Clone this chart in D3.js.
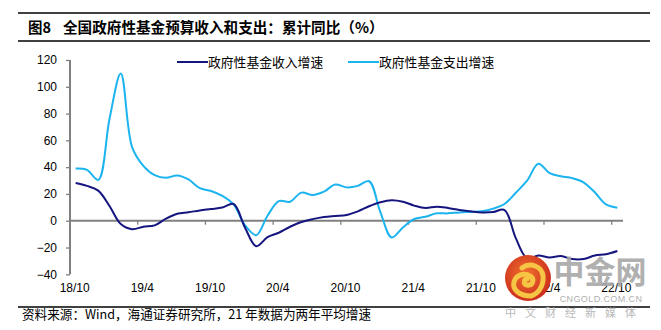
<!DOCTYPE html>
<html>
<head>
<meta charset="utf-8">
<script src="https://cdn.jsdelivr.net/npm/d3@7"></script>
<style>
  html, body { margin: 0; padding: 0; background: #ffffff; }
  svg { display: block; }
</style>
</head>
<body>
<svg id="chart" width="661" height="330"></svg>
<script>
// ---------- data ----------
const months = [
  "18/10","18/11","18/12","19/1","19/2","19/3","19/4","19/5","19/6","19/7","19/8","19/9",
  "19/10","19/11","19/12","20/1","20/2","20/3","20/4","20/5","20/6","20/7","20/8","20/9",
  "20/10","20/11","20/12","21/1","21/2","21/3","21/4","21/5","21/6","21/7","21/8","21/9",
  "21/10","21/11","21/12","22/1","22/2","22/3","22/4","22/5","22/6","22/7","22/8","22/9",
  "22/10"
];
const incomeGrowth = [
  28.2, 26, 22.5, 11, -2.5, -6.3, -4.5, -3.5, 1.5, 5.2, 6.3, 7.7,
  8.7, 9.8, 12.5, -5, -19, -12.3, -9, -4.5, -1, 1.2, 2.8, 3.6,
  4.3, 7, 10.8, 13.8, 15.3, 14.2, 11.3, 9.5, 10.5, 9.5, 8, 7,
  6.2, 6.5, 8, -13, -28, -26, -27.4, -26.4, -28.6, -28.6, -26, -25,
  -22.6
];
const expenseGrowth = [
  39, 38, 30.5, 76, 110, 55, 41, 34, 32, 33.8, 30.8, 24.3,
  22.2, 18.5, 12, -3.2, -10.8, 3.7, 14.7, 14.2, 21, 19.2, 21.7, 27,
  24.9, 26, 29.5, 6.5, -12.5, -5, 1.3, 3, 5.5, 5.5, 6.2, 6.6,
  7, 9, 12.5, 20.9, 29.9, 42.5, 35.5, 33.2, 31.8, 28.7, 21.2, 12.2,
  9.7
];
const xTickLabels = ["18/10","19/4","19/10","20/4","20/10","21/4","21/10","22/4","22/10"];
const yTickValues = [-40, -20, 0, 20, 40, 60, 80, 100, 120];
const seriesNames = ["政府性基金收入增速", "政府性基金支出增速"];
const titleLabel = "图8";
const titleText = "全国政府性基金预算收入和支出：累计同比（%）";
const sourceText = "资料来源：Wind，海通证券研究所，21 年数据为两年平均增速";

// ---------- layout ----------
const svg = d3.select("#chart");
const COL_DARK = "#15157f";
const COL_LIGHT = "#1cb4ef";
const AXIS = "#808080";
const CJK = "'Noto Sans CJK SC', 'Noto Sans', sans-serif";
const LAT = "'Liberation Sans', Arial, sans-serif";

const x = d3.scaleBand().domain(months).range([70, 623]).padding(0);
const y = d3.scaleLinear().domain([-40, 120]).range([274.3, 60]);
const cx = m => x(m) + x.bandwidth() / 2;

// rules
[13, 41, 307].forEach(yy => {
  svg.append("line").attr("x1", 18).attr("x2", 650).attr("y1", yy).attr("y2", yy)
    .attr("stroke", "#000").attr("stroke-width", 1.3);
});

// title
svg.append("text").attr("x", 28).attr("y", 33)
  .attr("font-family", CJK).attr("font-weight", "bold").attr("font-size", 14.5)
  .text(titleLabel);
svg.append("text").attr("x", 63).attr("y", 33)
  .attr("font-family", CJK).attr("font-weight", "bold").attr("font-size", 14.6)
  .text(titleText);

// y axis
const yAxis = svg.append("g").attr("transform", "translate(70,0)")
  .call(d3.axisLeft(y).tickValues(yTickValues).tickSize(4).tickPadding(9).tickFormat(d3.format("d")));
yAxis.select(".domain").attr("stroke", AXIS).attr("stroke-width", 2)
  .attr("d", `M0,${y(120)}V${y(-40)}`);
yAxis.selectAll(".tick line").attr("stroke", AXIS).attr("stroke-width", 1.3);
yAxis.selectAll(".tick text").attr("font-family", LAT).attr("font-size", 12).attr("fill", "#000");

// zero line with downward ticks
const zeroG = svg.append("g").attr("transform", `translate(0,${y(0)})`)
  .call(d3.axisBottom(x).tickValues(xTickLabels).tickSize(4).tickFormat(""));
zeroG.select(".domain").attr("stroke", AXIS).attr("stroke-width", 2.2)
  .attr("d", `M70,0H623`);
zeroG.selectAll(".tick").attr("transform", d => `translate(${x(d)},0)`);
zeroG.selectAll(".tick line").attr("stroke", AXIS).attr("stroke-width", 1.3)
  .filter(d => d === months[0]).remove();

// x labels at bottom
svg.append("g").selectAll("text").data(xTickLabels).join("text")
  .attr("x", d => cx(d) - 1).attr("y", 292)
  .attr("text-anchor", "middle")
  .attr("font-family", LAT).attr("font-size", 12).attr("fill", "#000")
  .text(d => d);

// lines
const line = d3.line().x((d, i) => cx(months[i])).y(d => y(d)).curve(d3.curveCatmullRom.alpha(0.5));
svg.append("path").datum(expenseGrowth).attr("d", line)
  .attr("fill", "none").attr("stroke", COL_LIGHT).attr("stroke-width", 2);
svg.append("path").datum(incomeGrowth).attr("d", line)
  .attr("fill", "none").attr("stroke", COL_DARK).attr("stroke-width", 2);

// legend
const legend = [
  { name: seriesNames[0], color: COL_DARK, x: 177 },
  { name: seriesNames[1], color: COL_LIGHT, x: 348 }
];
legend.forEach(l => {
  svg.append("line").attr("x1", l.x).attr("x2", l.x + 31).attr("y1", 62).attr("y2", 62)
    .attr("stroke", l.color).attr("stroke-width", 2);
  svg.append("text").attr("x", l.x + 31).attr("y", 66.5)
    .attr("font-family", CJK).attr("font-size", 12.8).attr("fill", "#000")
    .text(l.name);
});

// source
svg.append("text").attr("x", 22).attr("y", 318.5)
  .attr("font-family", CJK).attr("font-size", 12.6).attr("fill", "#000")
  .text(sourceText);

// watermark (中金网)
const wm = svg.append("g");
const grad = svg.append("defs").append("radialGradient").attr("id", "wmg")
  .attr("cx", "45%").attr("cy", "40%").attr("r", "65%");
grad.append("stop").attr("offset", "0%").attr("stop-color", "#f0702e");
grad.append("stop").attr("offset", "100%").attr("stop-color", "#c92a1c");
wm.append("circle").attr("cx", 528).attr("cy", 278).attr("r", 23).attr("fill", "url(#wmg)");
wm.append("path")
  .attr("d", "M531,296 C520,296 512,290 514,282 C516,275 524,272 530,276 C535,279 533,286 527,285 C523,284 524,279 527,279 M522,268 C530,262 542,266 543,276 C544,286 538,294 531,296")
  .attr("fill", "none").attr("stroke", "#f6c544").attr("stroke-width", 5).attr("stroke-linecap", "round");
wm.append("text").attr("x", 600).attr("y", 283).attr("text-anchor", "middle")
  .attr("font-family", CJK).attr("font-weight", "bold").attr("font-size", 31)
  .attr("fill", "#a8a8a8").attr("opacity", 0.9).text("中金网");
wm.append("text").attr("x", 601).attr("y", 302).attr("text-anchor", "middle")
  .attr("font-family", LAT).attr("font-size", 9).attr("fill", "#b0b0b0")
  .attr("letter-spacing", 0.4).text("CNGOLD.COM.CN");
wm.append("text").attr("x", 575).attr("y", 317).attr("text-anchor", "middle")
  .attr("font-family", CJK).attr("font-size", 11).attr("fill", "#b8b8b8")
  .attr("letter-spacing", 9).text("中文财经新媒体");
</script>
</body>
</html>
